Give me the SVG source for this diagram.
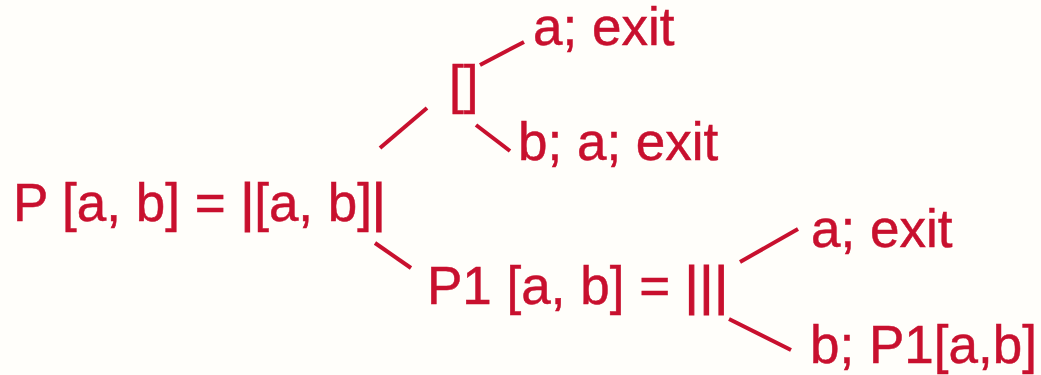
<svg xmlns="http://www.w3.org/2000/svg" width="1041" height="375" viewBox="0 0 1041 375">
<style>
text{font-family:"Liberation Sans",Arial,sans-serif;font-size:53px;fill:#C8102E;stroke:#C8102E;stroke-width:0.5}
.bar{stroke-width:1.2}
.c line{stroke:#C8102E;stroke-width:4;stroke-linecap:butt}
</style>
<rect width="1041" height="375" fill="#FFFEFA"/>
<g id="root"><text x="13" y="221">P [a, b] = <tspan class="bar">|</tspan>[a, b]<tspan class="bar">|</tspan></text></g>
<g id="choice"><text x="449" y="103">[]</text></g>
<g id="a-exit-1"><text x="533" y="45">a; exit</text></g>
<g id="b-a-exit"><text x="518" y="160">b; a; exit</text></g>
<g id="p1"><text x="427" y="304">P1 [a, b] = <tspan class="bar" letter-spacing="1">|||</tspan></text></g>
<g id="a-exit-2"><text x="811" y="247">a; exit</text></g>
<g id="b-p1"><text x="810" y="363">b; P1[a,b]</text></g>
<g id="connectors" class="c">
<line x1="380" y1="148" x2="427" y2="108"/>
<line x1="480" y1="65" x2="524" y2="42"/>
<line x1="476" y1="125" x2="510" y2="151"/>
<line x1="375" y1="243" x2="411" y2="268"/>
<line x1="740" y1="262" x2="798" y2="229"/>
<line x1="729" y1="319" x2="791" y2="350"/>
</g>
</svg>
